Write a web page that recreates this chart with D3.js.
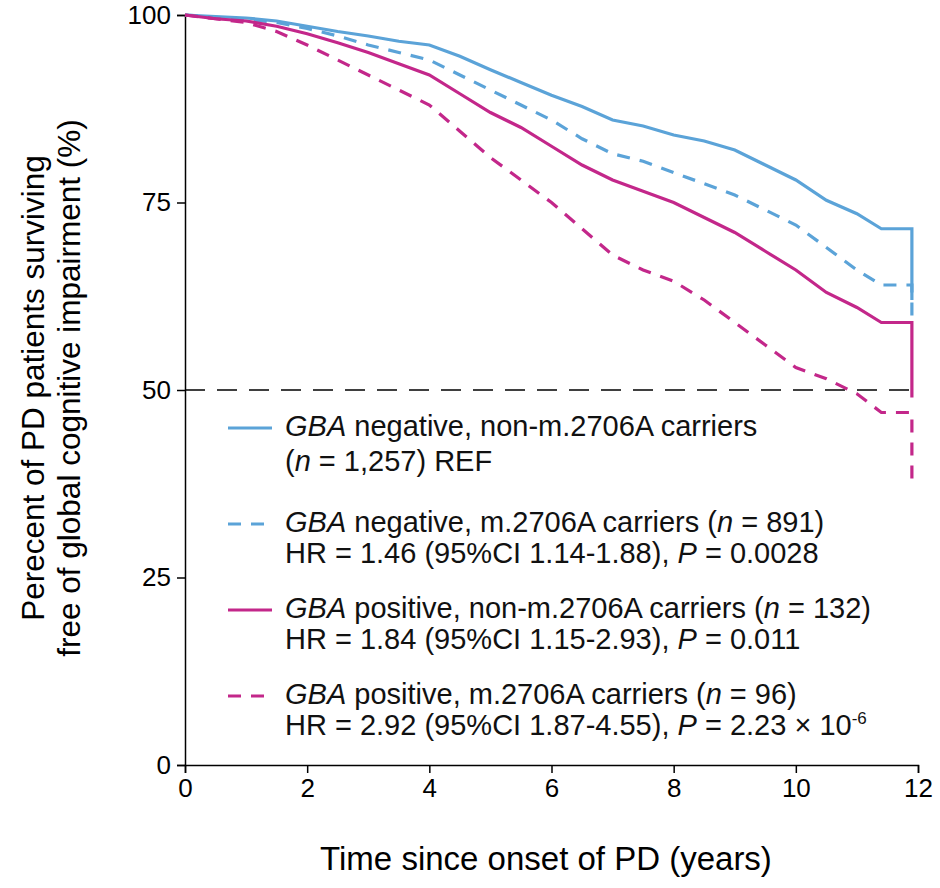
<!DOCTYPE html><html><head><meta charset="utf-8"><script src="https://cdn.jsdelivr.net/npm/d3@7"></script>
<style>body{margin:0;background:#fff}text{font-family:"Liberation Sans",Arial,sans-serif}</style></head><body><svg id="c" width="940" height="888"></svg><script>
const times=[0,0.5,1,1.5,2,2.5,3,3.5,4,4.5,5,5.5,6,6.5,7,7.5,8,8.5,9,9.5,10,10.5,11,11.4,11.9];
const negNon=[100,99.8,99.6,99.2,98.5,97.8,97.2,96.5,96,94.5,92.7,91,89.3,87.8,86,85.2,84,83.2,82,80,78,75.3,73.5,71.5,62];
const negCar=[100,99.7,99.4,99,98.2,97.2,96,95,94,92,90,88,86,83.5,81.5,80.5,79,77.5,76,74,72,69,66,64,59];
const posNon=[100,99.5,99.2,98.5,97.5,96.3,95,93.5,92,89.5,87,85,82.5,80,78,76.5,75,73,71,68.5,66,63,61,59,49];
const posCar=[100,99.5,99,97.8,96,94,92,90,88,84.5,81,78,75,71.5,68,66,64.5,62,59,56,53,51.5,49.5,47,38];
const xTicks=[0,2,4,6,8,10,12], yTicks=[0,25,50,75,100];
const blue="#5ba3d8", pink="#c3278a";
const svg=d3.select("#c");
const x=d3.scaleLinear().domain([0,12]).range([185,918]);
const y=d3.scaleLinear().domain([0,100]).range([765,15]);
const sty=g=>{g.attr("font-size",26).attr("font-family","Liberation Sans");g.selectAll("text").style("font-size","26px").attr("fill","#000");g.selectAll("line,path").attr("stroke","#000").attr("stroke-width",1.5);};
svg.append("g").attr("transform","translate(0,765)").call(d3.axisBottom(x).tickValues(xTicks).tickSize(8).tickPadding(6)).call(sty);
svg.append("g").attr("transform","translate(185,0)").call(d3.axisLeft(y).tickValues(yTicks).tickSize(8).tickPadding(6)).call(sty);
svg.append("line").attr("x1",x(0)).attr("x2",x(11.9)).attr("y1",y(50)).attr("y2",y(50)).attr("stroke","#000").attr("stroke-width",1.5).attr("stroke-dasharray","20,12");
const line=d3.line().x(d=>x(d[0])).y(d=>y(d[1]));
const series=[[negNon,blue,null],[negCar,blue,"13,10"],[posNon,pink,null],[posCar,pink,"13,10"]];
series.forEach(([v,c,da])=>{const pts=times.map((t,i)=>[t,v[i]]);
 const last=pts[pts.length-1]; pts.splice(pts.length-1,0,[last[0],v[v.length-2]]);
 svg.append("path").attr("d",line(pts)).attr("fill","none").attr("stroke",c).attr("stroke-width",3.2).attr("stroke-dasharray",da);});
svg.append("text").attr("x",546).attr("y",870).attr("text-anchor","middle").style("font-size","33px").text("Time since onset of PD (years)");
svg.append("text").attr("transform","translate(44,388) rotate(-90)").attr("text-anchor","middle").style("font-size","31.5px").text("Perecent of PD patients surviving");
svg.append("text").attr("transform","translate(80,388) rotate(-90)").attr("text-anchor","middle").style("font-size","31.5px").text("free of global cognitive impairment (%)");
const leg=[[blue,null,["<i>GBA</i> negative, non-m.2706A carriers","(<i>n</i> = 1,257)  REF"],410,35],
 [blue,"13,10",["<i>GBA</i> negative, m.2706A carriers (<i>n</i> = 891)","HR = 1.46 (95%CI 1.14-1.88), <i>P</i> = 0.0028"],506,31],
 [pink,null,["<i>GBA</i> positive, non-m.2706A carriers (<i>n</i> = 132)","HR = 1.84 (95%CI 1.15-2.93), <i>P</i> = 0.011"],592,31],
 [pink,"13,10",["<i>GBA</i> positive, m.2706A carriers (<i>n</i> = 96)","HR = 2.92 (95%CI 1.87-4.55), <i>P</i> = 2.23 × 10<tspan dy='-11' style='font-size:17px'>-6</tspan>"],678,31]];
leg.forEach(([c,da,ls,yy,gap])=>{svg.append("line").attr("x1",228).attr("x2",272).attr("y1",yy+18).attr("y2",yy+18).attr("stroke",c).attr("stroke-width",3.2).attr("stroke-dasharray",da);
 ls.forEach((l,i)=>{const t=svg.append("text").attr("x",285).attr("y",yy+i*gap+26).style("font-size","29px").attr("fill","#111");
  t.html(l.replace(/<i>(.*?)<\/i>/g,"<tspan font-style='italic'>$1</tspan>"));});});
</script></body></html>
